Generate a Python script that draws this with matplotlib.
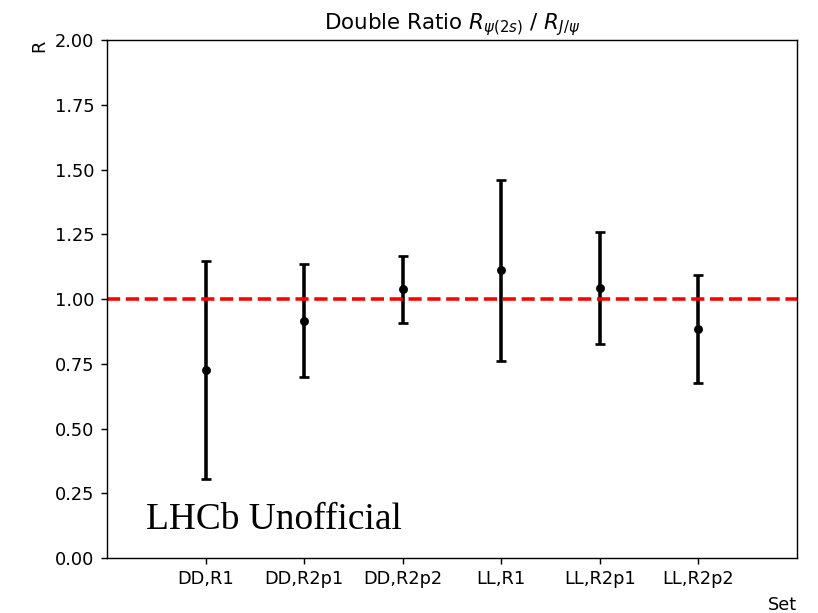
import matplotlib
matplotlib.use("Agg")
import matplotlib.pyplot as plt

categories = ["DD,R1", "DD,R2p1", "DD,R2p2", "LL,R1", "LL,R2p1", "LL,R2p2"]
values = [0.726, 0.916, 1.037, 1.111, 1.044, 0.884]
errors = [0.422, 0.219, 0.130, 0.349, 0.216, 0.207]
yticks = [0.0, 0.25, 0.5, 0.75, 1.0, 1.25, 1.5, 1.75, 2.0]

fig = plt.figure(figsize=(818/128, 613/128), dpi=128)
ax = fig.add_axes([107/818, 1-558/613, 690/818, 518/613])

x = list(range(len(categories)))
ax.errorbar(x, values, yerr=errors, fmt='o', color='black', ecolor='black',
            markersize=4, elinewidth=2, capsize=3, capthick=1.5)
ax.axhline(1.0, color='red', linestyle='--', linewidth=2)

ax.set_xlim(-1, 6)
ax.set_ylim(0, 2)
ax.set_xticks(x)
ax.set_xticklabels(categories)
ax.set_yticks(yticks)
ax.set_yticklabels([f"{t:.2f}" for t in yticks])
ax.set_title(r"Double Ratio $R_{\psi(2s)}$ / $R_{J/\psi}$", fontsize=12)
ax.set_ylabel("R", loc='top')
ax.set_xlabel("Set", loc='right')
ax.text(0.056, 0.056, "LHCb Unofficial", transform=ax.transAxes,
        fontfamily="Liberation Serif", fontsize=21)

fig.savefig("out.png", dpi=128)
